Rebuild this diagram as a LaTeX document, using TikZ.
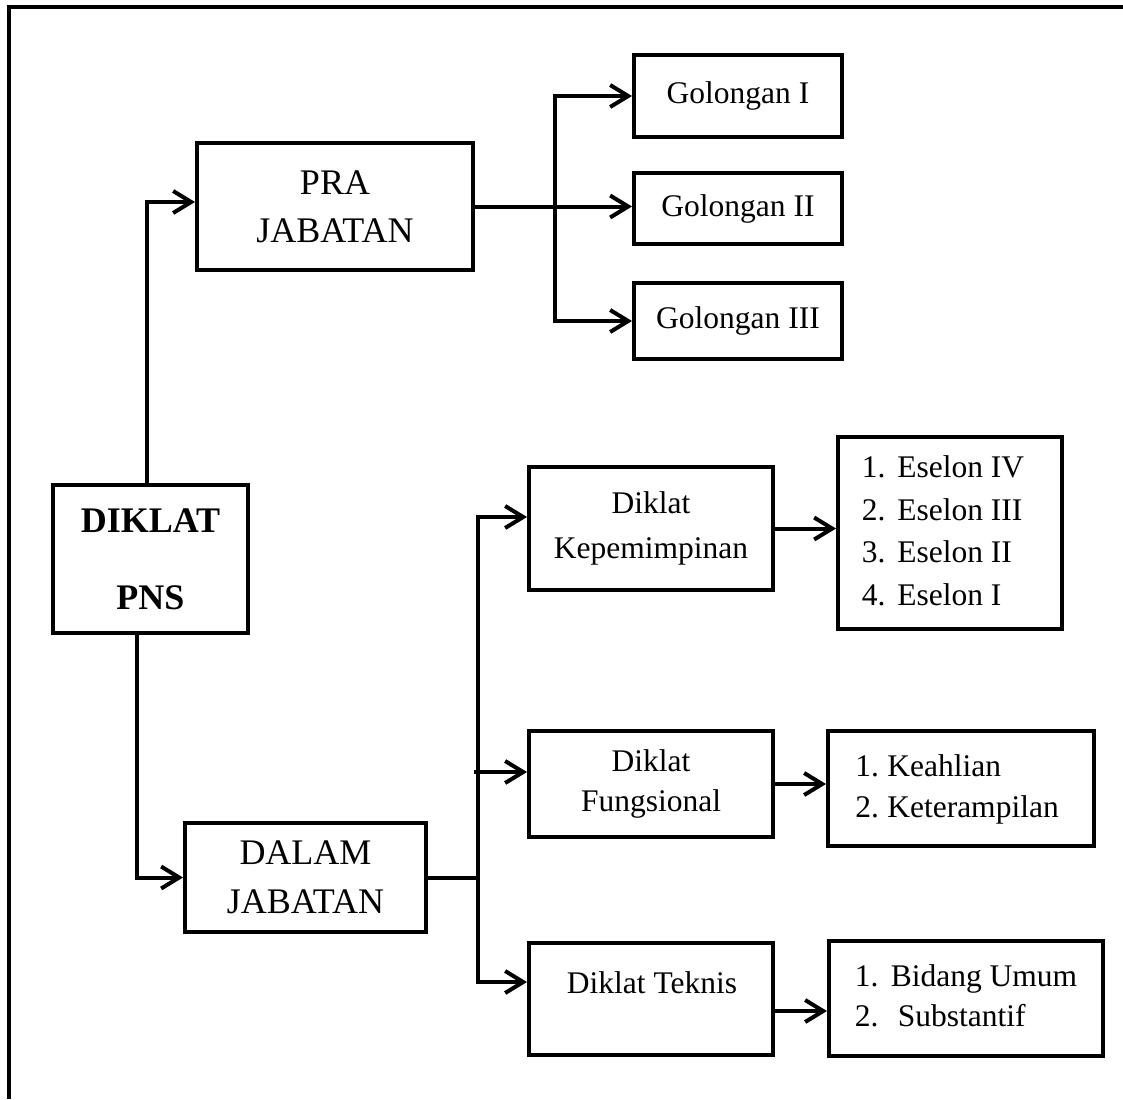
\documentclass[tikz,border=0pt]{standalone}
\usepackage{fontspec}
\setmainfont{Liberation Serif}
\usetikzlibrary{arrows.meta,calc}
\begin{document}
\begin{tikzpicture}[x=0.5pt,y=-0.5pt,
  box/.style={draw,line width=2pt,inner sep=0pt,align=center},
  listbox/.style={draw,line width=2pt,inner sep=0pt},
  big/.style={font=\fontsize{18}{24}\selectfont},
  small/.style={font=\fontsize{15.75}{20}\selectfont},
  conn/.style={line width=2pt},
  arr/.style={conn,-{Straight Barb[length=9pt,width=11pt]}},
  frame/.style={line width=2.2pt}]
\useasboundingbox (0,0) rectangle (1123,1099);
% outer frame
\draw[frame] (1123,7) -- (9,7) -- (9,1099);

% main nodes
\node[box,minimum width=97.5pt,minimum height=74pt,font=\fontsize{18}{38.5}\selectfont\bfseries] (pns) at (150.5,559) {DIKLAT\\PNS};
\node[box,minimum width=138pt,minimum height=63.5pt,font=\fontsize{18}{24}\selectfont] (pra) at (335,206.5) {PRA\\JABATAN};
\node[box,minimum width=120.5pt,minimum height=54.5pt,font=\fontsize{18}{24.5}\selectfont] (dalam) at (305.5,877.5) {DALAM\\JABATAN};

% golongan
\node[box,small,minimum width=104pt,minimum height=41pt] (g1) at (738,96) {Golongan I};
\node[box,small,minimum width=104pt,minimum height=35.5pt] (g2) at (738,208.5) {Golongan II};
\node[box,small,minimum width=104pt,minimum height=38pt] (g3) at (738,321) {Golongan III};

% diklat dalam jabatan
\node[box,minimum width=122pt,minimum height=61.5pt,font=\fontsize{15.75}{22.5}\selectfont] (kep) at (651,528.5) {Diklat\\Kepemimpinan};
\node[box,minimum width=122pt,minimum height=53pt,font=\fontsize{15.75}{20}\selectfont] (fung) at (651,784) {Diklat\\Fungsional};
\node[box,minimum width=122pt,minimum height=56pt] (tek) at (651,999) {};
\node[small,inner sep=0pt] (tekt) at (652,983) {Diklat Teknis};

% lists
\node[listbox,minimum width=112pt,minimum height=96pt,font=\fontsize{15.75}{21.3}\selectfont] (esl) at (950,533)
  {\begin{tabular}{@{}l@{\hspace{6pt}}l@{\hspace{7pt}}}1. & Eselon IV\\2. & Eselon III\\3. & Eselon II\\4. & Eselon I\end{tabular}};
\node[listbox,minimum width=133pt,minimum height=57.5pt,font=\fontsize{15.75}{20.5}\selectfont] (keah) at (961,788.5)
  {\begin{tabular}{@{}l@{\hspace{4.2pt}}l@{\hspace{4pt}}}1. & Keahlian\\2. & Keterampilan\end{tabular}};
\node[listbox,minimum width=137pt,minimum height=57.5pt,font=\fontsize{15.75}{20}\selectfont] (bid) at (966,998.5)
  {\begin{tabular}{@{}l@{\hspace{6.2pt}}l@{}}1. & Bidang Umum\\2. & \hspace{3.5pt}Substantif\end{tabular}};

% buses
\coordinate (busA) at (555,0);
\coordinate (busB) at (478,0);
\coordinate (jA) at (busA |- pra.east);
\coordinate (jB) at (busB |- dalam.east);

% connectors
\draw[arr] ([xshift=-1.75pt]pns.north) |- ([yshift=2.25pt]pra.west);
\draw[arr] ([xshift=-6.75pt]pns.south) |- (dalam.west);

\draw[arr] (pra.east) -- (pra.east -| g2.west);
\draw[arr] (jA) |- (g1.west);
\draw[arr] (jA) |- (g3.west);

\draw[conn] (dalam.east) -- (jB);
\draw[arr] (jB) |- ([yshift=5.75pt]kep.west);
\draw[arr] (jB) |- ([yshift=8.5pt]tek.west);
\coordinate (fa) at ([yshift=6pt]fung.west);
\draw[arr] ($(busB |- fa)+(-4,0)$) -- (fa);

\draw[arr] (kep.east) -- (kep.east -| esl.west);
\draw[arr] (fung.east) -- (fung.east -| keah.west);
\coordinate (tk) at ([yshift=-6pt]tek.east);
\draw[arr] (tk) -- (tk -| bid.west);
\end{tikzpicture}
\end{document}
